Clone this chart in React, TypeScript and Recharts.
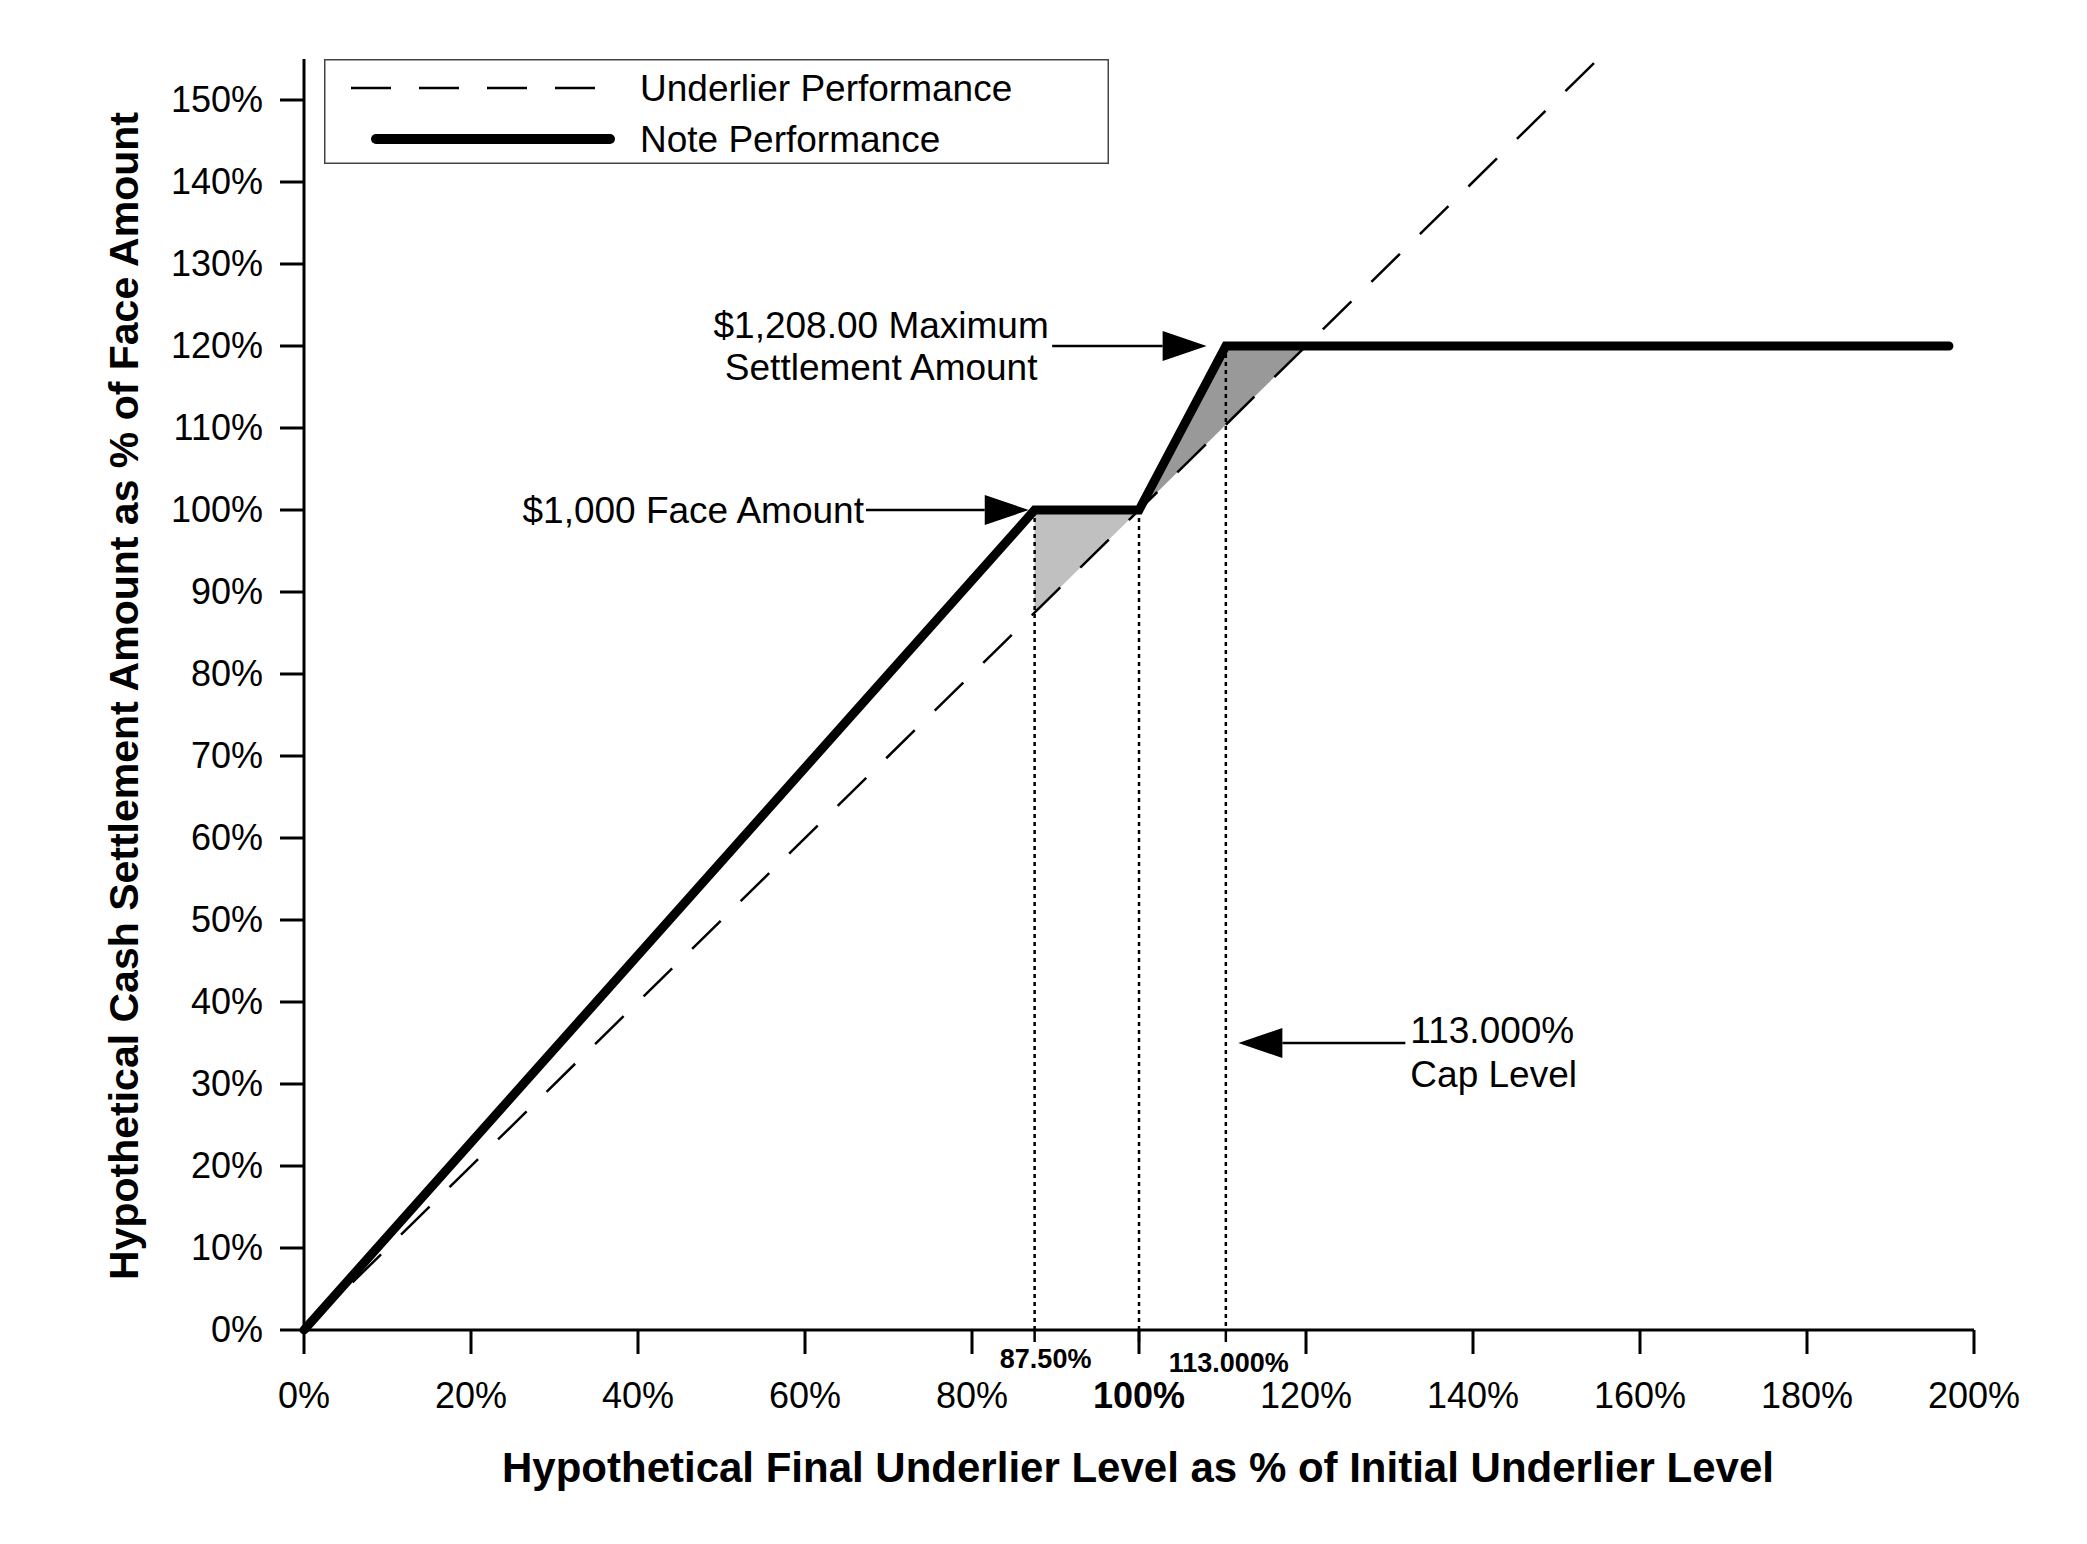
import React from "react";
import {
  ComposedChart,
  Line,
  Area,
  XAxis,
  YAxis,
  ReferenceLine,
  Legend,
} from "recharts";

// values (x and y in % units)
const xTicks = [0, 20, 40, 60, 80, 100, 120, 140, 160, 180, 200];
const yTicks = [0, 10, 20, 30, 40, 50, 60, 70, 80, 90, 100, 110, 120, 130, 140, 150];

const underlier = [
  { x: 0, y: 0 },
  { x: 155, y: 155 },
];

const note = [
  { x: 0, y: 0 },
  { x: 87.5, y: 100 },
  { x: 100, y: 100 },
  { x: 110.4, y: 120 },
  { x: 197, y: 120 },
];

// shaded gaps between note and underlier
const lightGap = [
  { x: 87.5, range: [87.5, 100] },
  { x: 100, range: [100, 100] },
];
const darkGap = [
  { x: 100, range: [100, 100] },
  { x: 110.4, range: [110.4, 120] },
  { x: 120, range: [120, 120] },
];

const thresholds = [
  { x: 87.5, top: 100, label: "87.50%", dx: 11, dy: 38 },
  { x: 100, top: 100, label: "", dx: 0, dy: 0 },
  { x: 110.4, top: 120, label: "113.000%", dx: 3, dy: 42 },
];

const FONT = "'Liberation Sans', Arial, Helvetica, sans-serif";

function arrowShape(lines: string[], anchor: "start" | "middle" | "end", dx: number, dys: number[]) {
  return (props: any) => {
    const { x1, y1, x2, y2 } = props;
    const dir = Math.sign(x2 - x1);
    const bx = x2 - dir * 44;
    return (
      <g>
        <line x1={x1} y1={y1} x2={bx} y2={y2} stroke="#000" strokeWidth={2.5} />
        <polygon points={`${x2},${y2} ${bx},${y2 - 15} ${bx},${y2 + 15}`} fill="#000" />
        {lines.map((t, i) => (
          <text key={i} x={x1 + dx} y={y1 + dys[i]} textAnchor={anchor} fontSize={37} fontFamily={FONT} fill="#000">
            {t}
          </text>
        ))}
      </g>
    );
  };
}

function dottedShape(label: string, dx: number, dy: number) {
  return (props: any) => {
    const { x1, y1, x2, y2 } = props;
    const bottom = Math.max(y1, y2);
    const top = Math.min(y1, y2);
    return (
      <g>
        <line x1={x1} y1={top} x2={x2} y2={bottom} stroke="#000" strokeWidth={2.5} strokeDasharray="4 4" />
        <line x1={x1} y1={bottom} x2={x2} y2={bottom + 12} stroke="#000" strokeWidth={2.5} />
        {label && (
          <text x={x1 + dx} y={bottom + dy} textAnchor="middle" fontSize={27} fontWeight="bold" fontFamily={FONT} fill="#000">
            {label}
          </text>
        )}
      </g>
    );
  };
}

const XTick = (props: any) => {
  const { x, y, payload } = props;
  return (
    <text x={x} y={y} dy={52} textAnchor="middle" fontSize={36} fontFamily={FONT} fill="#000"
      fontWeight={payload.value === 100 ? "bold" : "normal"}>
      {payload.value}%
    </text>
  );
};

const YTick = (props: any) => {
  const { x, y, payload } = props;
  return (
    <text x={x} y={y} dy={12} textAnchor="end" fontSize={36} fontFamily={FONT} fill="#000">
      {payload.value}%
    </text>
  );
};

const LegendBox = () => (
  <svg width={785} height={105} style={{ display: "block" }}>
    <rect x={0.75} y={0.75} width={783.5} height={103.5} fill="#fff" stroke="#444" strokeWidth={1.5} />
    <line x1={27} y1={29} x2={292} y2={29} stroke="#000" strokeWidth={2.5} strokeDasharray="40 28" />
    <line x1={52} y1={80} x2={286} y2={80} stroke="#000" strokeWidth={10} strokeLinecap="round" />
    <text x={316} y={42} fontSize={37} fontFamily={FONT} fill="#000">Underlier Performance</text>
    <text x={316} y={93} fontSize={37} fontFamily={FONT} fill="#000">Note Performance</text>
  </svg>
);

export default function App() {
  return (
    <div style={{ width: 2071, height: 1528, background: "#fff" }}>
      <ComposedChart width={2071} height={1528} margin={{ top: 51, right: 105, left: 0, bottom: 0 }}>
        <XAxis
          type="number"
          dataKey="x"
          domain={[0, 200]}
          ticks={xTicks}
          interval={0}
          height={206}
          tickSize={24}
          tickMargin={2}
          axisLine={{ stroke: "#000", strokeWidth: 3 }}
          tickLine={{ stroke: "#000", strokeWidth: 3 }}
          tick={<XTick />}
          allowDuplicatedCategory={false}
        />
        <YAxis
          type="number"
          domain={[0, 155]}
          ticks={yTicks}
          interval={0}
          width={296}
          tickSize={24}
          tickMargin={17}
          axisLine={{ stroke: "#000", strokeWidth: 3 }}
          tickLine={{ stroke: "#000", strokeWidth: 3 }}
          tick={<YTick />}
        />
        <Legend
          layout="vertical"
          align="center"
          verticalAlign="middle"
          wrapperStyle={{ position: "absolute", left: 316, top: 51, width: 785, height: 105 }}
          content={() => <LegendBox />}
        />
        <Area data={lightGap} dataKey="range" type="linear" stroke="none" fill="#c0c0c0" fillOpacity={1} isAnimationActive={false} legendType="none" />
        <Area data={darkGap} dataKey="range" type="linear" stroke="none" fill="#999999" fillOpacity={1} isAnimationActive={false} legendType="none" />
        {thresholds.map((t) => (
          <ReferenceLine
            key={t.x}
            segment={[{ x: t.x, y: 0 }, { x: t.x, y: t.top }]}
            shape={dottedShape(t.label, t.dx, t.dy)}
          />
        ))}
        <Line data={underlier} dataKey="y" type="linear" stroke="#000" strokeWidth={2.5} strokeDasharray="40 28" dot={false} isAnimationActive={false} name="Underlier Performance" />
        <Line data={note} dataKey="y" type="linear" stroke="#000" strokeWidth={9} strokeLinecap="round" strokeLinejoin="miter" dot={false} isAnimationActive={false} name="Note Performance" />
        <ReferenceLine
          segment={[{ x: 89.6, y: 120 }, { x: 108.1, y: 120 }]}
          shape={arrowShape(["$1,208.00 Maximum", "Settlement Amount"], "middle", -171, [-8, 34])}
        />
        <ReferenceLine
          segment={[{ x: 67.3, y: 100 }, { x: 86.8, y: 100 }]}
          shape={arrowShape(["$1,000 Face Amount"], "end", -2, [13])}
        />
        <ReferenceLine
          segment={[{ x: 131.9, y: 35 }, { x: 111.9, y: 35 }]}
          shape={arrowShape(["113.000%", "Cap Level"], "start", 5, [0, 44])}
        />
        <text x={130} y={688} transform="rotate(-90 130 688)" textAnchor="middle" fontSize={41} fontWeight="bold" fontFamily={FONT} fill="#000">
          Hypothetical Cash Settlement Amount as % of Face Amount
        </text>
        <text x={1130} y={1474} textAnchor="middle" fontSize={42} fontWeight="bold" fontFamily={FONT} fill="#000">
          Hypothetical Final Underlier Level as % of Initial Underlier Level
        </text>
      </ComposedChart>
    </div>
  );
}
